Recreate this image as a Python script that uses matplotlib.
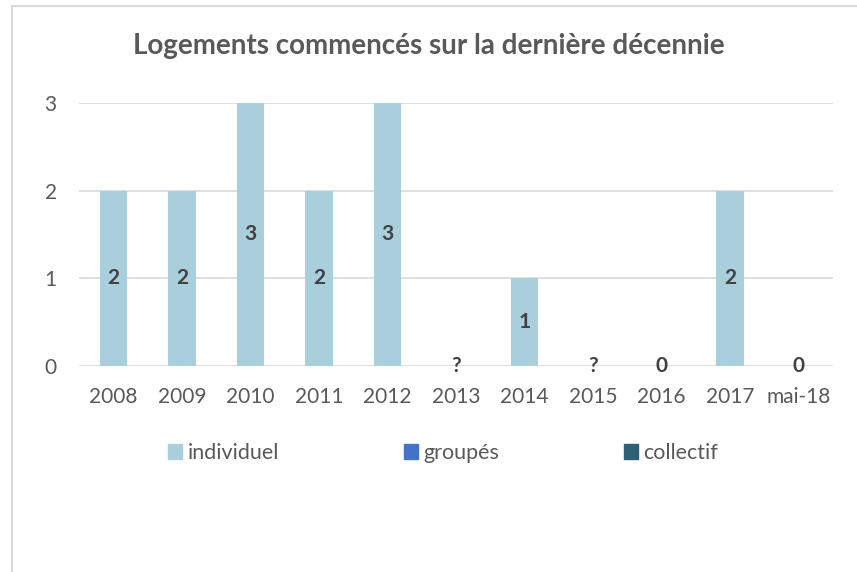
import matplotlib.pyplot as plt
from matplotlib.patches import Patch
from matplotlib.lines import Line2D

plt.rcParams['font.family'] = ['Lato', 'DejaVu Sans']

categories = ['2008', '2009', '2010', '2011', '2012', '2013', '2014', '2015', '2016', '2017', 'mai-18']
individuel = [2, 2, 3, 2, 3, 0, 1, 0, 0, 2, 0]
groupes = [0] * 11
collectif = [0] * 11
value_labels = ['2', '2', '3', '2', '3', '?', '1', '?', '0', '2', '0']
yticks = [0, 1, 2, 3]

C_IND = '#a9cfdc'
C_GRP = '#4472c4'
C_COL = '#2f6075'
GREY = '#595959'

fig = plt.figure(figsize=(8.57, 5.72), dpi=100)
ax = fig.add_axes([79 / 857, 1 - 366 / 572, (833 - 79) / 857, (366 - 103) / 572])

x = list(range(len(categories)))
ax.bar(x, individuel, width=0.4, color=C_IND, zorder=2)
ax.bar(x, groupes, width=0.4, bottom=individuel, color=C_GRP, zorder=2)
bot2 = [a + b for a, b in zip(individuel, groupes)]
ax.bar(x, collectif, width=0.4, bottom=bot2, color=C_COL, zorder=2)

for xi, v, lab in zip(x, individuel, value_labels):
    ax.text(xi, v / 2, lab, ha='center', va='center', fontsize=15,
            fontweight='bold', color='#404040', zorder=3)

ax.set_xlim(-0.5, len(categories) - 0.5)
ax.set_ylim(0, 3)
ax.set_yticks(yticks)
ax.set_xticks(x)
ax.set_xticklabels(categories)
ax.tick_params(axis='both', length=0, labelsize=15, labelcolor=GREY)
ax.tick_params(axis='x', pad=15)
ax.tick_params(axis='y', pad=16)
ax.grid(axis='y', color='#d9d9d9', linewidth=1.2, zorder=0)
for s in ax.spines.values():
    s.set_visible(False)

fig.text(0.5, 1 - 46 / 572, 'Logements commencés sur la dernière décennie',
         ha='center', va='center', fontsize=20, fontweight='bold', color=GREY)

handles = [Patch(color=C_IND), Patch(color=C_GRP), Patch(color=C_COL)]
fig.legend(handles, ['individuel', 'groupés', 'collectif'], loc='center',
           bbox_to_anchor=(443 / 857, 1 - 453 / 572), ncol=3, frameon=False,
           fontsize=15.5, labelcolor=GREY, handlelength=0.65, handleheight=0.65,
           handletextpad=0.25, columnspacing=5.8)

# chart border (top and left visible)
fig.add_artist(Line2D([12 / 857, 1], [1 - 6 / 572, 1 - 6 / 572], color='#d9d9d9', linewidth=1.5))
fig.add_artist(Line2D([12 / 857, 12 / 857], [0, 1 - 6 / 572], color='#d9d9d9', linewidth=1.5))

fig.savefig('out.png', dpi=100)
